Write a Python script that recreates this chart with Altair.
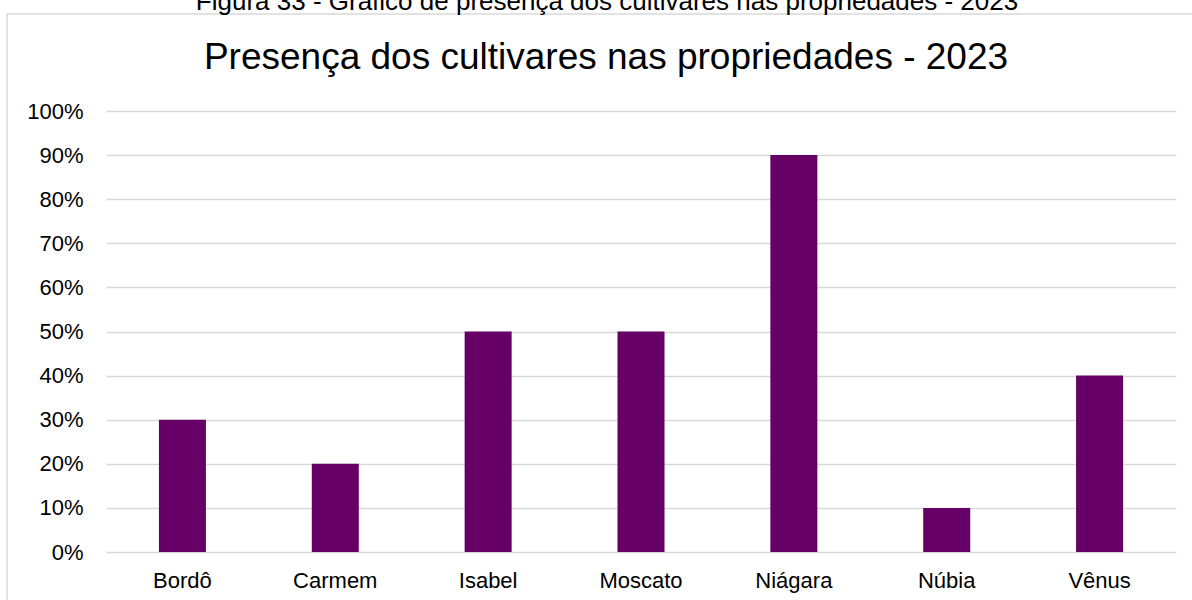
import altair as alt
import pandas as pd

categories = ["Bordô", "Carmem", "Isabel", "Moscato", "Niágara", "Núbia", "Vênus"]
values = [0.30, 0.20, 0.50, 0.50, 0.90, 0.10, 0.40]
y_ticks = [0.0, 0.1, 0.2, 0.3, 0.4, 0.5, 0.6, 0.7, 0.8, 0.9, 1.0]
title_text = "Presença dos cultivares nas propriedades - 2023"
caption_text = "Figura 33 - Gráfico de presença dos cultivares nas propriedades - 2023"

FONT = "Liberation Sans"
df = pd.DataFrame({"cat": categories, "val": values})

frame = alt.Chart(pd.DataFrame({"k": [0]})).mark_rect(
    fill=None, stroke="#d9d9d9", strokeWidth=1.5
).encode(
    x=alt.value(-99), x2=alt.value(1100), y=alt.value(-97), y2=alt.value(520)
)

bars = alt.Chart(df).mark_bar(size=47, color="#660066").encode(
    x=alt.X("cat:N", sort=categories, title=None,
            scale=alt.Scale(paddingInner=0, paddingOuter=0),
            axis=alt.Axis(labelAngle=0, ticks=False, domain=False, grid=False,
                          labelFont=FONT, labelFontSize=22, labelColor="#000000",
                          labelBaseline="alphabetic", labelPadding=35)),
    y=alt.Y("val:Q", title=None,
            scale=alt.Scale(domain=[0, 1], nice=False),
            axis=alt.Axis(values=y_ticks, format=".0%", ticks=False, domain=False,
                          gridColor="#d9d9d9", gridWidth=1.5,
                          labelFont=FONT, labelFontSize=22, labelColor="#000000",
                          labelPadding=23, labelBaseline="middle")),
)

title = alt.Chart(pd.DataFrame({"t": [title_text]})).mark_text(
    font=FONT, fontSize=37, color="#000000", align="center", baseline="alphabetic"
).encode(text="t:N", x=alt.value(500), y=alt.value(-42))

caption = alt.Chart(pd.DataFrame({"t": [caption_text]})).mark_text(
    font=FONT, fontSize=26, color="#000000", align="center", baseline="alphabetic"
).encode(text="t:N", x=alt.value(501), y=alt.value(-101))

chart = alt.layer(frame, bars, title, caption).properties(
    width=1070, height=441,
    autosize=alt.AutoSizeParams(type="none"),
    padding={"left": 106, "top": 111, "right": 16, "bottom": 48},
    background="white",
).configure_view(stroke=None)

chart.save("out.html", embed_options={"renderer": "svg", "actions": False})
